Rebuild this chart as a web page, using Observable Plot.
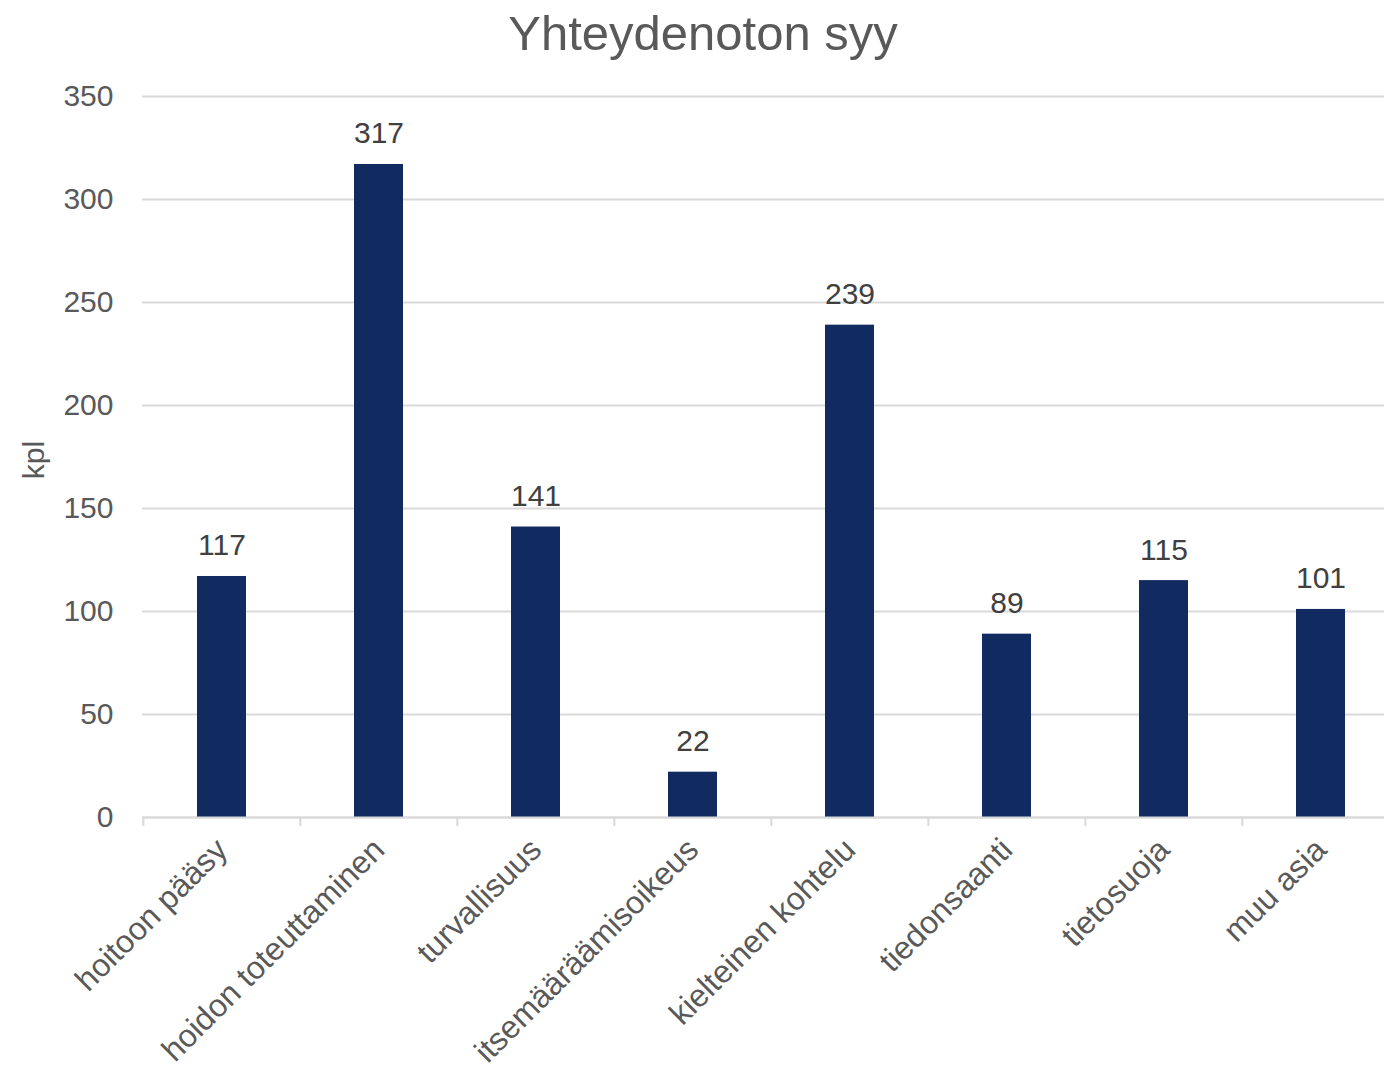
<!DOCTYPE html>
<html><head><meta charset="utf-8">
<script src="https://cdn.jsdelivr.net/npm/d3@7"></script>
<script src="https://cdn.jsdelivr.net/npm/@observablehq/plot@0.6"></script>
<style>
html,body{margin:0;padding:0;background:#fff;overflow:hidden;}
#title{height:66px;line-height:66px;font-family:"Liberation Sans",Arial,sans-serif;font-size:49px;color:#595959;text-align:center;padding-left:22px;white-space:nowrap;}
</style></head><body>
<div id="title">Yhteydenoton syy</div>
<div id="chart"></div>
<script>
const categories = ["hoitoon pääsy","hoidon toteuttaminen","turvallisuus","itsemääräämisoikeus","kielteinen kohtelu","tiedonsaanti","tietosuoja","muu asia"];
const values = [117, 317, 141, 22, 239, 89, 115, 101];
const yTicks = [0, 50, 100, 150, 200, 250, 300, 350];
const yLabel = "kpl";
const data = categories.map((c, i) => ({category: c, value: values[i]}));

const chart = Plot.plot({
  width: 1384, height: 1001,
  marginLeft: 142, marginRight: -16, marginTop: 30, marginBottom: 250,
  style: {fontFamily: '"Liberation Sans", Arial, sans-serif', background: "#fff", overflow: "visible"},
  x: {domain: categories, paddingInner: 0.688, paddingOuter: 0.344, label: null},
  y: {domain: [0, 350], label: null},
  marks: [
    Plot.gridY(yTicks, {stroke: "#d9d9d9", strokeOpacity: 1, strokeWidth: 2}),
    Plot.barY(data, {x: "category", y: "value", fill: "#112B60"}),
    Plot.ruleY([0], {stroke: "#d9d9d9", strokeWidth: 2}),
    Plot.axisX({tickSize: 9, dx: -78.625, text: null, stroke: "#d9d9d9", strokeWidth: 2, strokeOpacity: 1, label: null}),
    Plot.axisX({tickSize: 0, tickRotate: -45, tickPadding: 27, fontSize: 32, fill: "#595959", label: null}),
    Plot.axisY(yTicks, {tickSize: 0, tickPadding: 29, fontSize: 30, fill: "#595959", label: null}),
    Plot.text(data, {x: "category", y: "value", text: d => String(d.value), dy: -21, lineAnchor: "bottom", fontSize: 30, fill: "#404040"}),
    Plot.text([yLabel], {text: d => d, frameAnchor: "left", textAnchor: "middle", dx: -108, dy: 3, rotate: -90, fontSize: 30, fill: "#595959"})
  ]
});
document.getElementById("chart").appendChild(chart);
</script>
</body></html>
